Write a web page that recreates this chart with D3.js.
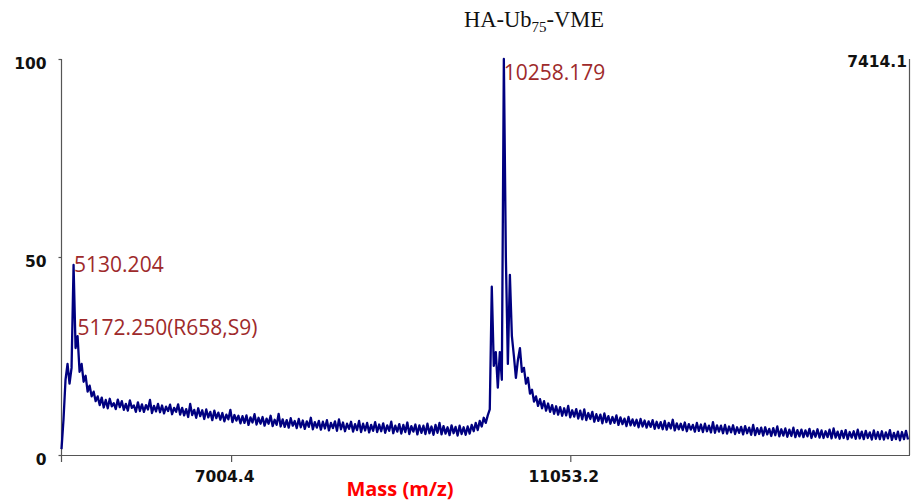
<!DOCTYPE html>
<html>
<head>
<meta charset="utf-8">
<script src="https://cdn.jsdelivr.net/npm/d3@7"></script>
<style>
  html, body { margin: 0; padding: 0; background: #fff; }
  svg { display: block; }
</style>
</head>
<body>
<div id="chart"></div>
<script>
// spectrum sampled every 24 m/z starting at 4980, relative intensity in %
const mzStart = 4980;
const mzStep = 24;
const intensity = [
  // 0-19  first cluster (5130 / 5172)
  1.5, 9, 19, 23, 18, 22, 48, 27, 30, 21, 23, 18.5, 20, 16, 17.5, 14.8, 16, 13.6, 14.8, 12.6,
  // 20-99
  14.5, 12.0, 13.9, 11.8, 14.2, 12.3, 13.1, 11.6, 14.0, 12.1,
  13.6, 11.4, 12.9, 11.2, 13.8, 11.9, 12.5, 10.9, 13.3, 11.1,
  12.8, 10.9, 12.6, 11.5, 13.9, 10.6, 12.4, 11.0, 12.9, 10.8,
  12.5, 10.5, 12.2, 11.1, 12.7, 10.3, 11.9, 10.9, 12.8, 10.2,
  11.9, 10.0, 11.6, 9.6, 12.9, 10.1, 11.4, 9.4, 11.8, 9.8,
  11.3, 9.1, 11.5, 9.5, 10.9, 8.8, 11.2, 9.3, 10.7, 8.9,
  10.6, 8.5, 10.2, 9.0, 11.4, 8.3, 10.1, 8.7, 9.9, 8.0,
  9.8, 8.1, 10.0, 7.6, 9.5, 8.2, 10.3, 7.7, 9.4, 7.9,
  // 100-199
  9.6, 7.4, 9.2, 7.9, 9.9, 7.3, 8.9, 7.6, 10.4, 7.2,
  9.0, 7.1, 8.8, 6.9, 9.3, 7.4, 8.6, 6.8, 9.1, 7.0,
  8.7, 6.6, 8.5, 7.1, 9.4, 6.5, 8.3, 6.9, 8.6, 6.4,
  8.4, 6.7, 8.8, 6.2, 8.1, 6.8, 8.5, 6.1, 9.0, 6.5,
  8.2, 6.0, 7.9, 6.6, 8.4, 5.9, 7.8, 6.3, 8.6, 5.8,
  7.9, 6.2, 8.1, 5.7, 7.6, 6.1, 8.3, 5.8, 7.7, 6.0,
  8.0, 5.6, 7.5, 6.1, 8.4, 5.5, 7.4, 5.9, 7.8, 5.4,
  7.6, 5.8, 8.2, 5.3, 7.3, 5.9, 7.7, 5.2, 7.5, 5.6,
  7.4, 5.3, 7.9, 5.5, 7.2, 5.1, 7.6, 5.6, 8.1, 5.2,
  7.3, 5.4, 7.0, 5.0, 7.5, 5.5, 7.1, 4.9, 7.4, 5.3,
  // 200-212
  7.0, 5.1, 7.2, 5.4, 7.6, 6.0, 8.1, 6.3, 8.6, 7.2,
  9.4, 8.1, 10.0,
  // 213-236  main cluster (10258)
  11.5, 42.5, 22.5, 26, 17, 26, 19, 100, 50, 23,
  45.5, 30, 25, 19.5, 24, 27, 21, 22, 18, 19.5,
  15.5, 16.5, 13.5, 14.8,
  // 237-247
  12.4, 14.1, 11.8, 13.6, 11.2, 13.0, 10.9, 12.6, 10.4, 12.3, 10.2,
  // 248-421
  12.1, 9.9, 11.8, 10.0, 12.4, 9.5, 11.3, 9.7, 11.6, 9.2,
  11.2, 9.0, 11.5, 8.8, 10.6, 9.1, 10.9, 8.4, 10.3, 8.6,
  10.2, 8.0, 10.5, 8.3, 9.8, 7.9, 9.6, 8.1, 10.0, 7.6,
  9.5, 7.8, 9.2, 7.3, 9.6, 7.5, 9.0, 7.4, 8.9, 7.0,
  9.1, 7.2, 8.7, 6.9, 8.5, 7.1, 8.8, 6.6, 8.4, 6.8,
  8.3, 6.5, 8.6, 6.4, 8.1, 6.7, 8.9, 6.2, 8.0, 6.5,
  7.9, 6.3, 8.2, 6.0, 7.8, 6.4, 7.6, 5.9, 8.1, 6.1,
  7.7, 5.8, 7.9, 6.0, 7.4, 5.7, 8.3, 5.6, 7.5, 5.9,
  7.4, 5.5, 7.6, 5.4, 7.2, 5.7, 7.5, 5.3, 7.0, 5.6,
  7.1, 5.2, 7.3, 5.5, 6.9, 5.1, 7.6, 5.0, 6.8, 5.3,
  6.9, 4.9, 7.0, 5.2, 6.6, 4.8, 6.8, 5.0, 7.2, 4.7,
  6.5, 4.9, 6.7, 4.6, 6.4, 4.8, 6.9, 4.5, 6.3, 4.7,
  6.4, 4.5, 6.2, 4.7, 6.6, 4.3, 6.1, 4.6, 6.5, 4.4,
  6.2, 4.3, 6.0, 4.5, 6.4, 4.2, 6.7, 4.4, 5.9, 4.1,
  6.1, 4.3, 6.3, 4.0, 5.8, 4.4, 6.0, 4.1, 6.4, 4.2,
  5.9, 4.0, 6.1, 4.3, 5.7, 3.9, 6.2, 4.1, 5.8, 4.0,
  6.0, 3.9, 5.7, 4.2, 6.3, 3.8, 5.6, 4.0, 5.9, 3.7,
  5.8, 4.0, 6.1, 3.9
];

const xDomain = [4980, 15102];
const xTicks = [7004.4, 11053.2];
const yTicks = [0, 50, 100];
const maxCounts = "7414.1";

const peakMz = [5130.204, 5172.25, 10258.179];
const peakLabels = ["5130.204", "5172.250(R658,S9)", "10258.179"];

const W = 913, H = 504;
const svg = d3.select("#chart").append("svg").attr("width", W).attr("height", H);

const x = d3.scaleLinear().domain(xDomain).range([61.5, 909.5]);
const y = d3.scaleLinear().domain([0, 100]).range([455, 59]);

// frame: left, bottom and right lines
svg.append("line").attr("x1", x.range()[0]).attr("x2", x.range()[0])
    .attr("y1", y(100)).attr("y2", y(0) + 7).attr("stroke", "#555").attr("stroke-width", 1.2);
svg.append("line").attr("x1", x.range()[1]).attr("x2", x.range()[1])
    .attr("y1", y(100)).attr("y2", y(0)).attr("stroke", "#555").attr("stroke-width", 1.2);

// x axis
const xAxis = svg.append("g").attr("transform", `translate(0,${y(0)})`)
    .call(d3.axisBottom(x).tickValues(xTicks).tickSize(7).tickSizeOuter(0).tickFormat(d3.format(".1f")));
xAxis.select(".domain").attr("stroke", "#555").attr("stroke-width", 1.2);
xAxis.selectAll(".tick line").attr("stroke", "#555").attr("stroke-width", 1.2);
xAxis.selectAll(".tick text")
    .attr("y", 27).attr("dy", 0).attr("dx", -7)
    .attr("font-family", "DejaVu Sans").attr("font-weight", "bold").attr("font-size", 15.5).attr("fill", "#111");

// y axis
const yAxis = svg.append("g").attr("transform", `translate(${x.range()[0]},0)`)
    .call(d3.axisLeft(y).tickValues(yTicks).tickSize(3).tickSizeOuter(0));
yAxis.select(".domain").remove();
yAxis.selectAll(".tick line").attr("stroke", "#555").attr("stroke-width", 1.2);
yAxis.selectAll(".tick text")
    .attr("x", -15).attr("dy", "0.6em")
    .attr("font-family", "DejaVu Sans").attr("font-weight", "bold").attr("font-size", 15.5).attr("fill", "#111");

// spectrum
const line = d3.line()
    .x((d, i) => x(mzStart + i * mzStep))
    .y(d => y(d));
svg.append("path").datum(intensity)
    .attr("d", line)
    .attr("fill", "none").attr("stroke", "#000080").attr("stroke-width", 2.3)
    .attr("stroke-linejoin", "round");

// peak labels
const labelY = [271.5, 335, 80];
svg.selectAll(".peak-label").data(peakMz).join("text")
    .attr("class", "peak-label")
    .attr("x", d => x(d))
    .attr("y", (d, i) => labelY[i])
    .attr("font-family", "Open Sans").attr("font-size", 21).attr("fill", "#9e2a2b")
    .text((d, i) => peakLabels[i]);

// max counts, top right
svg.append("text").attr("x", 907).attr("y", 67).attr("text-anchor", "end")
    .attr("font-family", "DejaVu Sans").attr("font-weight", "bold").attr("font-size", 15.5).attr("fill", "#111")
    .text(maxCounts);

// title
const title = svg.append("text").attr("x", 534).attr("y", 27).attr("text-anchor", "middle")
    .attr("font-family", "Liberation Serif").attr("font-size", 22.5).attr("fill", "#111");
title.append("tspan").text("HA-Ub");
title.append("tspan").attr("font-size", 15).attr("dy", 5).text("75");
title.append("tspan").attr("dy", -5).text("-VME");

// x axis title
svg.append("text").attr("x", 400).attr("y", 496).attr("text-anchor", "middle")
    .attr("font-family", "Open Sans").attr("font-weight", "bold").attr("font-size", 20).attr("fill", "#ff0000")
    .text("Mass (m/z)");
</script>
</body>
</html>
